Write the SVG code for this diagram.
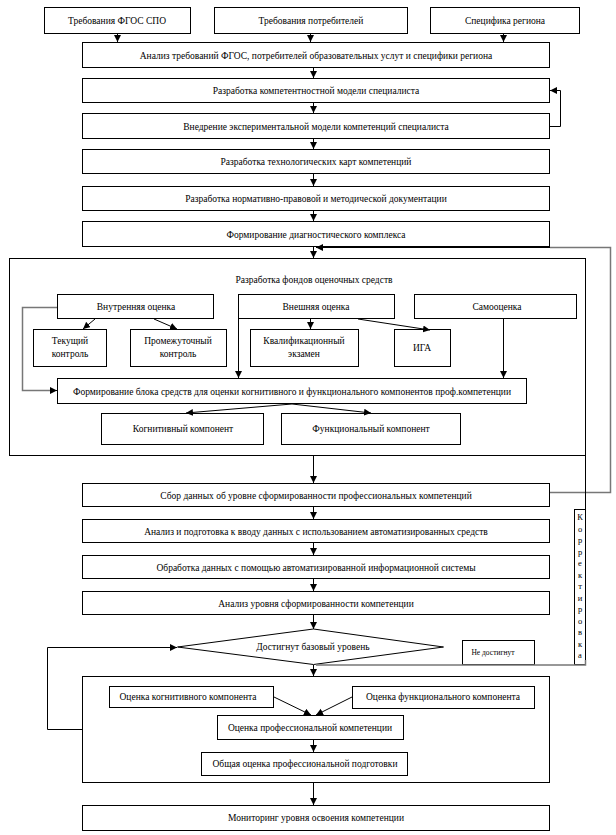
<svg xmlns="http://www.w3.org/2000/svg" width="616" height="835" viewBox="0 0 616 835">
<defs>
<marker id="ah" markerUnits="userSpaceOnUse" markerWidth="8" markerHeight="8" refX="7" refY="3.5" orient="auto"><path d="M0,0 L7,3.5 L0,7 z" fill="#000"/></marker>
<marker id="ahg" markerUnits="userSpaceOnUse" markerWidth="8" markerHeight="8" refX="7" refY="3.5" orient="auto"><path d="M0,0 L7,3.5 L0,7 z" fill="#000"/></marker>
</defs>
<style>
rect,polygon{fill:#fff;stroke:#000;stroke-width:1}
text{font-family:"Liberation Serif","Times New Roman",serif;font-size:9.5px;fill:#000;text-anchor:middle}
.s{font-size:9px}
.c line,.c polyline{stroke:#000;stroke-width:1;fill:none}
.c .g{stroke:#777;stroke-width:1.5}
</style>
<rect width="616" height="835" style="fill:#fff;stroke:none"/>

<g id="n-fgos"><rect x="44.5" y="7.5" width="146" height="26"/><text x="117" y="24">Требования ФГОС СПО</text></g>
<g id="n-potr"><rect x="214.5" y="7.5" width="193" height="26"/><text x="311" y="24">Требования потребителей</text></g>
<g id="n-region"><rect x="430.5" y="7.5" width="149" height="26"/><text x="505" y="24">Специфика региона</text></g>
<g id="n-analiz"><rect x="82.5" y="42.5" width="467" height="25"/><text x="316" y="58.5">Анализ требований ФГОС, потребителей образовательных услут и специфики региона</text></g>
<g id="n-model"><rect x="82.5" y="78.5" width="467" height="24"/><text x="316" y="94">Разработка компетентностной модели специалиста</text></g>
<g id="n-vnedr"><rect x="82.5" y="113.5" width="467" height="25"/><text x="316" y="129.5">Внедрение экспериментальной модели компетенций специалиста</text></g>
<g id="n-karty"><rect x="82.5" y="149.5" width="467" height="24"/><text x="316" y="165">Разработка технологических карт компетенций</text></g>
<g id="n-norm"><rect x="82.5" y="186.5" width="467" height="24"/><text x="316" y="202">Разработка нормативно-правовой и методической документации</text></g>
<g id="n-diag"><rect x="82.5" y="221.5" width="467" height="25"/><text x="316" y="237.5">Формирование диагностического комплекса</text></g>

<g id="n-fos">
<rect x="9.5" y="258.5" width="576" height="197"/>
<text x="314" y="283">Разработка фондов оценочных  средств</text>
</g>
<g id="n-vnutr"><rect x="57.5" y="294.5" width="156" height="24"/><text x="136" y="310">Внутренняя оценка</text></g>
<g id="n-vnesh"><rect x="238.5" y="294.5" width="156" height="24"/><text x="316" y="310">Внешняя оценка</text></g>
<g id="n-samo"><rect x="414.5" y="294.5" width="162" height="24"/><text x="497" y="310">Самооценка</text></g>
<g id="n-tek"><rect x="33.5" y="329.5" width="73" height="37"/><text x="70" y="344">Текущий</text><text x="70" y="357">контроль</text></g>
<g id="n-prom"><rect x="130.5" y="329.5" width="96" height="37"/><text x="178" y="344">Промежуточный</text><text x="178" y="357">контроль</text></g>
<g id="n-kval"><rect x="250.5" y="329.5" width="108" height="37"/><text x="304" y="344">Квалификационный</text><text x="304" y="357">экзамен</text></g>
<g id="n-iga"><rect x="394.5" y="329.5" width="56" height="37"/><text x="422" y="351">ИГА</text></g>
<g id="n-blok"><rect x="57.5" y="378.5" width="469" height="25"/><text x="292" y="394.5">Формирование блока средств для оценки  когнитивного и функционального компонентов проф.компетенции</text></g>
<g id="n-kogn"><rect x="101.5" y="413.5" width="162" height="31"/><text x="183" y="432">Когнитивный компонент</text></g>
<g id="n-funk"><rect x="281.5" y="413.5" width="179" height="31"/><text x="371" y="432">Функциональный компонент</text></g>

<g id="n-sbor"><rect x="82.5" y="483.5" width="467" height="23"/><text x="316" y="498.5">Сбор данных об уровне сформированности профессиональных компетенций</text></g>
<g id="n-podg"><rect x="82.5" y="519.5" width="467" height="23"/><text x="316" y="534.5">Анализ и подготовка к вводу данных с использованием автоматизированных средств</text></g>
<g id="n-obr"><rect x="82.5" y="555.5" width="467" height="23"/><text x="316" y="570.5">Обработка данных с помощью автоматизированной информационной системы</text></g>
<g id="n-uroven"><rect x="82.5" y="591.5" width="467" height="23"/><text x="316" y="606.5">Анализ уровня сформированности компетенции</text></g>
<g id="n-dost"><polygon points="177.5,647 313.5,629 443.5,647 313.5,664.5"/><text x="313" y="650">Достигнут базовый уровень</text></g>
<g id="n-nedost"><rect x="462.5" y="640.5" width="72" height="24"/><text x="493" y="655" style="font-size:7.5px">Не достигнут</text></g>
<g id="n-korr"><rect x="574.5" y="509.5" width="11" height="155"/>
<text x="580" style="font-size:8.5px"><tspan x="580" y="520">К</tspan><tspan x="580" y="531.5">о</tspan><tspan x="580" y="543">р</tspan><tspan x="580" y="554.5">р</tspan><tspan x="580" y="566">е</tspan><tspan x="580" y="577.5">к</tspan><tspan x="580" y="589">т</tspan><tspan x="580" y="600.5">и</tspan><tspan x="580" y="612">р</tspan><tspan x="580" y="623.5">о</tspan><tspan x="580" y="635">в</tspan><tspan x="580" y="646.5">к</tspan><tspan x="580" y="658">а</tspan></text>
</g>

<g id="n-ocenka"><rect x="82.5" y="676.5" width="467" height="106"/></g>
<g id="n-ockogn"><rect x="109.5" y="686.5" width="164" height="21"/><text x="188" y="700">Оценка когнитивного компонента</text></g>
<g id="n-ocfunk"><rect x="352.5" y="686.5" width="182" height="22"/><text x="443" y="700">Оценка функционального компонента</text></g>
<g id="n-ocprof"><rect x="217.5" y="715.5" width="186" height="24"/><text x="310" y="731">Оценка профессиональной компетенции</text></g>
<g id="n-obsh"><rect x="201.5" y="752.5" width="206" height="23"/><text x="305" y="767">Общая оценка профессиональной подготовки</text></g>
<g id="n-monit"><rect x="82.5" y="805.5" width="467" height="25"/><text x="316" y="821">Мониторинг уровня освоения компетенции</text></g>

<g id="connectors" class="c">
<line x1="117.5" y1="34" x2="117.5" y2="42" marker-end="url(#ah)"/>
<line x1="310.5" y1="34" x2="310.5" y2="42" marker-end="url(#ah)"/>
<line x1="503.5" y1="34" x2="503.5" y2="42" marker-end="url(#ah)"/>
<line x1="313.5" y1="68" x2="313.5" y2="78" marker-end="url(#ah)"/>
<line x1="313.5" y1="103" x2="313.5" y2="113" marker-end="url(#ah)"/>
<polyline points="550,126.5 560.5,126.5 560.5,90.5 550,90.5" marker-end="url(#ah)"/>
<line x1="313.5" y1="139" x2="313.5" y2="149" marker-end="url(#ah)"/>
<line x1="313.5" y1="174" x2="313.5" y2="186" marker-end="url(#ah)"/>
<line x1="313.5" y1="211" x2="313.5" y2="221" marker-end="url(#ah)"/>
<line x1="313.5" y1="247" x2="313.5" y2="258" marker-end="url(#ah)"/>
<polyline class="g" points="550,492.5 610.5,492.5 610.5,247.5 550,247.5"/>
<line x1="550" y1="247.5" x2="316" y2="247.5" marker-end="url(#ahg)"/>
<line x1="95" y1="319" x2="83" y2="329" marker-end="url(#ah)"/>
<line x1="154" y1="319" x2="177" y2="329" marker-end="url(#ah)"/>
<line x1="310.5" y1="319" x2="310.5" y2="329" marker-end="url(#ah)"/>
<line x1="358" y1="319" x2="430" y2="330" marker-end="url(#ah)"/>
<line x1="238.5" y1="319" x2="238.5" y2="378" marker-end="url(#ah)"/>
<line x1="503.5" y1="319" x2="503.5" y2="378" marker-end="url(#ah)"/>
<polyline class="g" points="57,307.5 22.5,307.5 22.5,390.5 50,390.5"/>
<line x1="50" y1="390.5" x2="57" y2="390.5" marker-end="url(#ah)"/>
<line x1="292" y1="404" x2="186" y2="413" marker-end="url(#ah)"/>
<line x1="292" y1="404" x2="371" y2="413" marker-end="url(#ah)"/>
<line x1="313.5" y1="456" x2="313.5" y2="483" marker-end="url(#ah)"/>
<line x1="313.5" y1="507" x2="313.5" y2="519" marker-end="url(#ah)"/>
<line x1="313.5" y1="543" x2="313.5" y2="555" marker-end="url(#ah)"/>
<line x1="313.5" y1="579" x2="313.5" y2="591" marker-end="url(#ah)"/>
<line x1="313.5" y1="615" x2="313.5" y2="629" marker-end="url(#ah)"/>
<line x1="585.5" y1="456" x2="585.5" y2="509"/>
<polyline class="g" points="316,665 585.5,665 585.5,660"/>
<line x1="313.5" y1="665" x2="313.5" y2="676" marker-end="url(#ah)"/>
<polyline points="82,729.5 47.5,729.5 47.5,647.5 177,647.5" marker-end="url(#ah)"/>
<line x1="274" y1="697" x2="311" y2="715" marker-end="url(#ah)"/>
<line x1="352" y1="697" x2="316" y2="715" marker-end="url(#ah)"/>
<line x1="313.5" y1="740" x2="313.5" y2="752" marker-end="url(#ah)"/>
<line x1="313.5" y1="783" x2="313.5" y2="805" marker-end="url(#ah)"/>
</g>
</svg>
